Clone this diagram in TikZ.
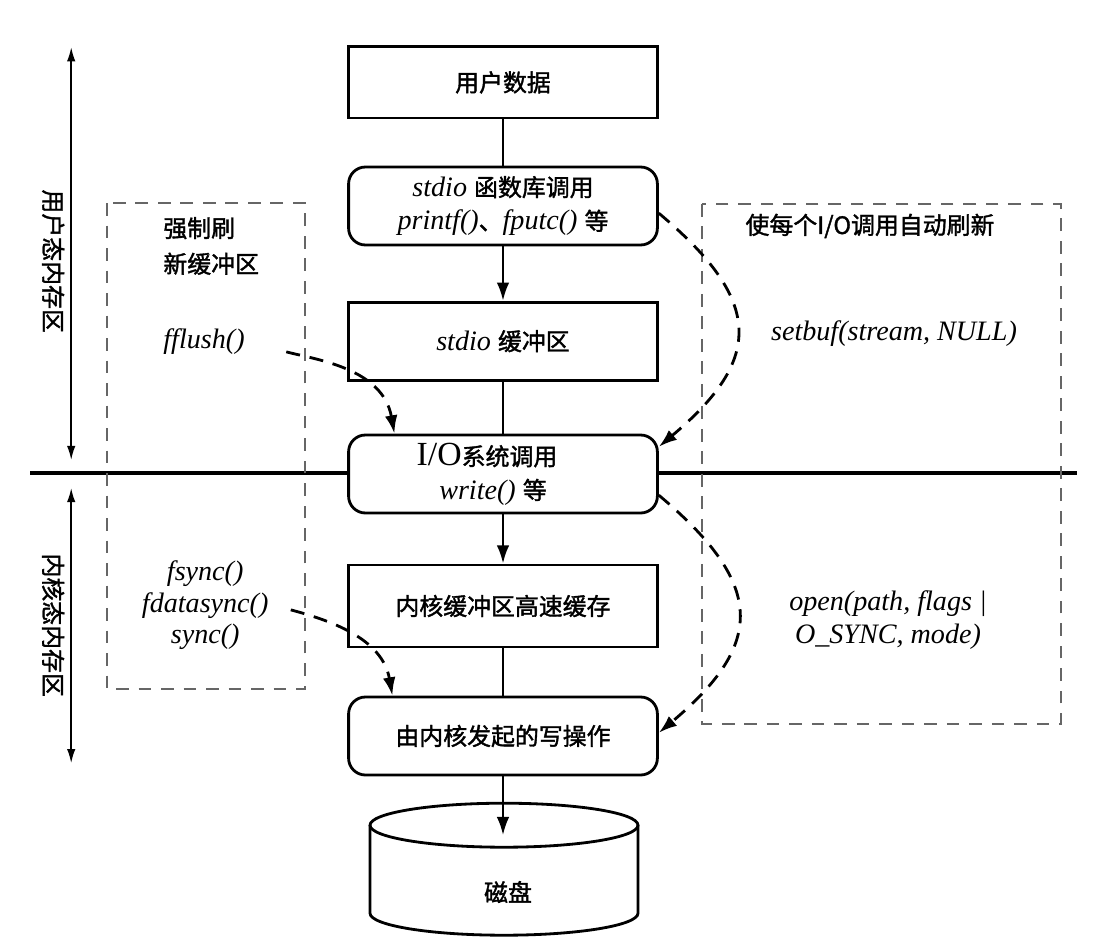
\documentclass[tikz,border=0pt]{standalone}
\usepackage{fontspec}
\setmainfont{Liberation Serif}
\newfontfamily\zh[Scale=0.85, FakeBold=1.5]{Noto Sans CJK SC}
\usepackage{tikz}
\usetikzlibrary{arrows.meta}
\usetikzlibrary{positioning}

\tikzset{
  box/.style={draw, line width=2pt, fill=white, minimum width=7.72cm,
    minimum height=1.95cm, align=center},
  rbox/.style={box, rounded corners=0.42cm},
  dashbox/.style={draw=black!60, line width=1.3pt, dash pattern=on 9pt off 7pt},
  flow/.style={line width=1.8pt},
  flowarr/.style={flow, arrows={-Latex[length=13pt, width=9pt]}},
  dasharr/.style={line width=2pt, dash pattern=on 10pt off 7pt,
    arrows={-Latex[length=13pt, width=9pt]}},
  sidearr/.style={line width=1.2pt,
    arrows={Latex[length=10pt, width=6pt]-Latex[length=10pt, width=6pt]}},
}

\begin{document}
\begin{tikzpicture}[font=\fontsize{20}{24}\selectfont]
\useasboundingbox (0,0) rectangle (27.4,-23.65);
% user / kernel boundary
\coordinate (lineW) at (0.75,-11.83);
\coordinate (lineE) at (26.93,-11.83);
\draw[line width=2.8pt] (lineW) -- (lineE);
% side arrows and labels
\coordinate (uTop) at (1.78,-1.18);
\coordinate (uBot) at (1.78,-11.5);
\coordinate (kTop) at (1.78,-12.2);
\coordinate (kBot) at (1.78,-19.08);
\draw[sidearr] (uTop) -- (uBot);
\draw[sidearr] (kTop) -- (kBot);
\node[rotate=-90] (userlbl) at (1.33,-6.53) {\zh 用户态内存区};
\node[rotate=-90] (kernlbl) at (1.33,-15.63) {\zh 内核态内存区};
% dashed groups
\draw[dashbox] (2.68,-5.08) rectangle (7.63,-17.23);
\draw[dashbox] (17.55,-5.1) rectangle (26.53,-18.1);
\node[align=left] (flushhd) at (5.28,-6.15) {{\zh 强制刷}\\[0.05cm]{\zh 新缓冲区}};
\node (fflush) at (5.1,-8.55) {\textit{fflush()}};
\node[align=center] (fsync) at (5.13,-15.13) {\textit{fsync()}\\[-0.05cm]\textit{fdatasync()}\\[-0.05cm]\textit{sync()}};
\node (autohd) at (21.75,-5.65) {\zh 使每个I/O调用自动刷新};
\node (setbuf) at (22.35,-8.33) {\textit{setbuf(stream, NULL)}};
\node[align=center] (osync) at (22.2,-15.5) {\textit{open(path, flags |}\\\textit{O\_SYNC, mode)}};
% main column
\node[box, minimum height=1.78cm] (data) at (12.575,-2.06) {\zh 用户数据};
\node[rbox] (lib) at (12.575,-5.15) {\textit{stdio} {\zh 函数库调用}\\\textit{printf()}{\zh 、}\textit{fputc()} {\zh 等}};
\node[box] (buf) at (12.575,-8.53) {\textit{stdio} {\zh 缓冲区}};
\node[rbox] (io) at (12.575,-11.85) {{\fontsize{24}{24}\selectfont I/O}{\zh 系统调用}\hspace*{0.8cm}\\\textit{write()} {\zh 等}\hspace*{0.5cm}};
\node[box, minimum height=2.05cm] (kbuf) at (12.575,-15.15) {\zh 内核缓冲区高速缓存};
\node[rbox] (wop) at (12.575,-18.4) {\zh 由内核发起的写操作};
% disk
\draw[line width=2pt, fill=white] (9.25,-20.63) -- (9.25,-22.83)
  arc[start angle=180, end angle=360, x radius=3.35cm, y radius=0.55cm] -- (15.95,-20.63);
\draw[line width=2pt] (12.6,-20.63) ellipse [x radius=3.35cm, y radius=0.55cm];
\node (disk) at (12.7,-22.3) {\zh 磁盘};
\coordinate (disktop) at (12.6,-20.88);
% solid connectors
\draw[flow] (data) -- (lib);
\draw[flowarr] (lib) -- (buf);
\draw[flow] (buf) -- (io);
\draw[flowarr] (io) -- (kbuf);
\draw[flow] (kbuf) -- (wop);
\draw[flowarr] (wop.south) -- (wop.south |- disktop);
% dashed connectors
\draw[dasharr, shorten <=0.95cm] (fflush.east) to[out=-15, in=100] ([xshift=1.18cm]io.north west);
\draw[dasharr, shorten <=0.45cm] (fsync.east) to[out=-15, in=100] ([xshift=1.13cm]wop.north west);
\draw[dasharr] ([yshift=-0.18cm]lib.east) to[out=-40, in=40, looseness=1.5] ([yshift=0.68cm]io.east);
\draw[dasharr] ([yshift=-0.53cm]io.east) to[out=-40, in=40, looseness=1.5] ([yshift=0.08cm]wop.east);
\end{tikzpicture}
\end{document}
